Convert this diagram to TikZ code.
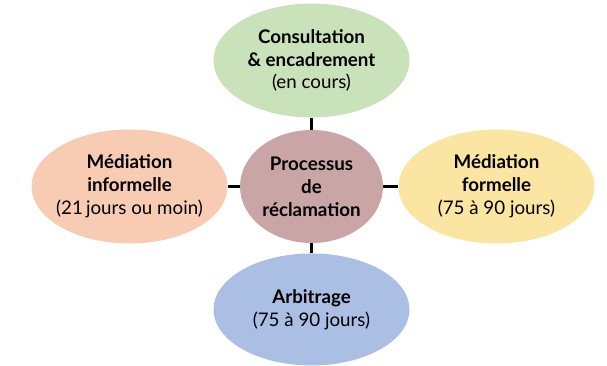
\documentclass[tikz,border=0pt]{standalone}
\usepackage{fontspec}
\setmainfont{Lato}
\usetikzlibrary{positioning,shapes.geometric}

\definecolor{consultfill}{HTML}{C9E2BA}
\definecolor{informfill}{HTML}{F8CCB2}
\definecolor{procfill}{HTML}{C9A6A5}
\definecolor{formfill}{HTML}{FAE6A2}
\definecolor{arbfill}{HTML}{AABFE3}

\begin{document}
\begin{tikzpicture}[
                    stepnode/.style={ellipse, draw=none, inner xsep=-0.15cm, inner ysep=0pt, minimum width=5.88cm, minimum height=3.42cm, align=center, font=\fontsize{16}{19.5}\selectfont},
                    procnode/.style={ellipse, draw=none, fill=procfill, inner sep=0pt, minimum width=4.29cm, minimum height=3.39cm, align=center, font=\fontsize{16}{19.5}\selectfont\bfseries},
                    link/.style={line width=0.8mm},
                ]
                    \useasboundingbox (-9.345,-5.385) rectangle (8.865,5.595);

                    %Nodes
                    \node[procnode](proc){Processus\\de\\réclamation};
                    \node[stepnode, fill=consultfill](consult)[above=0.36cm of proc] {\textbf{Consultation}\\\textbf{\& encadrement}\\(en cours)};
                    \node[stepnode, fill=informfill](inform)[left=0.36cm of proc] {\textbf{Médiation}\\\textbf{informelle}\\(21\,jours ou moin)};
                    \node[stepnode, fill=formfill](form)[right=0.45cm of proc] {\textbf{Médiation}\\\textbf{formelle}\\(75 à 90 jours)};
                    \node[stepnode, fill=arbfill, minimum height=3.36cm](arb)[below=0.3cm of proc] {\textbf{Arbitrage}\\(75 à 90 jours)};

                    %Lines
                    \draw[link](proc.north) -- (consult.south);
                    \draw[link](proc.west) -- (inform.east);
                    \draw[link](proc.east) -- (form.west);
                    \draw[link](proc.south) -- (arb.north);
                \end{tikzpicture}
\end{document}
